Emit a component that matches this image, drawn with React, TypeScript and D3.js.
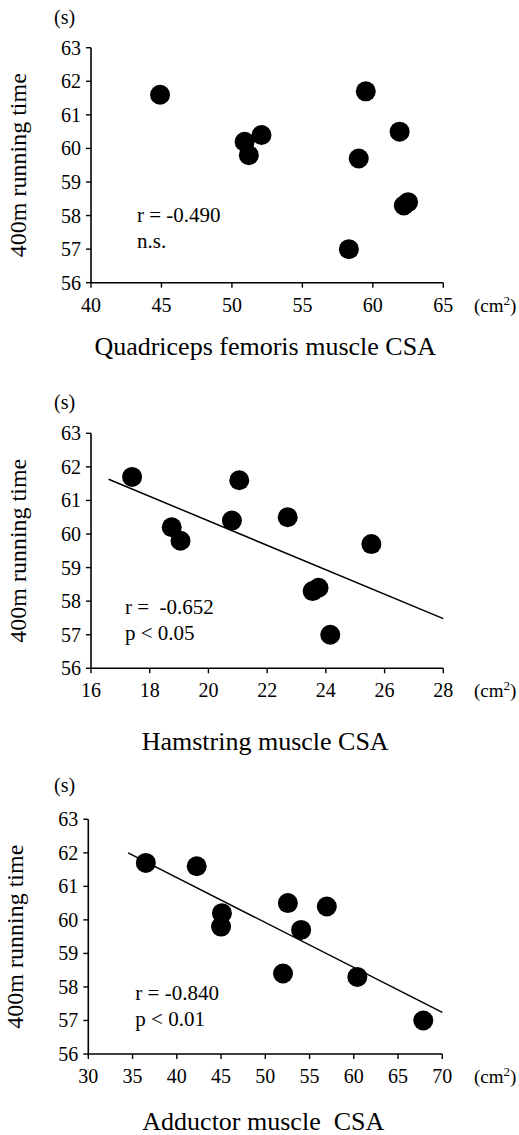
import * as d3 from 'd3'

// 400 m time (s) vs muscle CSA (cm2)
const quadCSA = [44.9, 50.9, 51.2, 52.1, 59.5, 61.9, 59.0, 62.2, 62.5, 58.3]
const quadTime = [61.6, 60.2, 59.8, 60.4, 61.7, 60.5, 59.7, 58.3, 58.4, 57.0]

const hamCSA = [17.4, 18.75, 19.05, 20.8, 21.05, 22.7, 25.55, 23.55, 23.75, 24.15]
const hamTime = [61.7, 60.2, 59.8, 60.4, 61.6, 60.5, 59.7, 58.3, 58.4, 57.0]
const hamFitX = [16.6, 28]
const hamFitY = [61.63, 57.48]

const addCSA = [36.5, 42.25, 45.1, 45.0, 52.55, 56.95, 54.05, 52.0, 60.4, 67.85]
const addTime = [61.7, 61.6, 60.2, 59.8, 60.5, 60.4, 59.7, 58.4, 58.3, 57.0]
const addFitX = [34.5, 70]
const addFitY = [62.0, 57.24]

const timeTicks = [56, 57, 58, 59, 60, 61, 62, 63]
const quadTicks = [40, 45, 50, 55, 60, 65]
const hamTicks = [16, 18, 20, 22, 24, 26, 28]
const addTicks = [30, 35, 40, 45, 50, 55, 60, 65, 70]

const titles = ['Quadriceps femoris muscle CSA', 'Hamstring muscle CSA', 'Adductor muscle  CSA']
const stats = [['r = -0.490', 'n.s.'], ['r =  -0.652', 'p < 0.05'], ['r = -0.840', 'p < 0.01']]

const FONT = '"Liberation Serif", "Times New Roman", serif'

type PanelProps = {
  xs: number[]; ys: number[]; xTicks: number[]
  fitX?: number[]; fitY?: number[]
  title: string; stat: string[]
  left: number; top: number; width: number; height: number
  titleDy: number; statDx: number; statDy: number; sDy: number
}

function Panel(p: PanelProps) {
  const x = d3.scaleLinear().domain(d3.extent(p.xTicks) as [number, number]).range([p.left, p.left + p.width])
  const y = d3.scaleLinear().domain([56, 63]).range([p.top + p.height, p.top])
  const bottom = p.top + p.height
  const fit = p.fitX && p.fitY
    ? d3.line<number>().x(d => x(d)).y((_, i) => y(p.fitY![i]))(p.fitX)
    : null

  return (
    <g fontFamily={FONT} fill="#000">
      <text x={54} y={p.top + p.sDy} fontSize={20}>(s)</text>
      <text
        transform={`translate(${p.left - 65},${p.top + p.height / 2}) rotate(-90)`}
        textAnchor="middle" fontSize={24}
      >400m running time</text>

      {/* axes */}
      <line x1={p.left} x2={p.left} y1={p.top} y2={bottom} stroke="#000" strokeWidth={1.6} />
      <line x1={p.left} x2={p.left + p.width} y1={bottom} y2={bottom} stroke="#000" strokeWidth={1.6} />
      {timeTicks.map(t => (
        <g key={'y' + t}>
          <line x1={p.left - 5} x2={p.left} y1={y(t)} y2={y(t)} stroke="#000" strokeWidth={1.4} />
          <text x={p.left - 10} y={y(t)} dy="0.35em" textAnchor="end" fontSize={20}>{t}</text>
        </g>
      ))}
      {p.xTicks.map(t => (
        <g key={'x' + t}>
          <line x1={x(t)} x2={x(t)} y1={bottom} y2={bottom + 5} stroke="#000" strokeWidth={1.4} />
          <text x={x(t)} y={bottom + 29} textAnchor="middle" fontSize={20}>{t}</text>
        </g>
      ))}
      <text x={474} y={bottom + 29} fontSize={19}>
        (cm<tspan fontSize={13} dy={-7}>2</tspan><tspan dy={7}>)</tspan>
      </text>

      <text x={p.left + p.width / 2 - 2} y={bottom + p.titleDy} textAnchor="middle" fontSize={26}
        xmlSpace="preserve">{p.title}</text>

      {fit && <path d={fit} fill="none" stroke="#000" strokeWidth={1.5} />}
      {p.xs.map((v, i) => (
        <circle key={i} cx={x(v)} cy={y(p.ys[i])} r={10} fill="#000" />
      ))}

      <text x={p.left + p.statDx} y={p.top + p.statDy} fontSize={21} xmlSpace="preserve">{p.stat[0]}</text>
      <text x={p.left + p.statDx} y={p.top + p.statDy + 26} fontSize={21}>{p.stat[1]}</text>
    </g>
  )
}

export default function App() {
  return (
    <div style={{ position: 'absolute', left: 0, top: 0, background: '#fff' }}>
      <svg width={519} height={1135} style={{ display: 'block' }}>
        <rect width={519} height={1135} fill="#fff" />
        <Panel xs={quadCSA} ys={quadTime} xTicks={quadTicks} title={titles[0]} stat={stats[0]}
          left={91} top={47.7} width={352.3} height={235} titleDy={72} statDx={46} statDy={174} sDy={-24} />
        <Panel xs={hamCSA} ys={hamTime} xTicks={hamTicks} fitX={hamFitX} fitY={hamFitY}
          title={titles[1]} stat={stats[1]}
          left={91} top={433.3} width={352.3} height={235} titleDy={82} statDx={34} statDy={181} sDy={-24} />
        <Panel xs={addCSA} ys={addTime} xTicks={addTicks} fitX={addFitX} fitY={addFitY}
          title={titles[2]} stat={stats[2]}
          left={88.3} top={819.3} width={354} height={234.7} titleDy={76} statDx={47} statDy={181} sDy={-27} />
      </svg>
    </div>
  )
}
